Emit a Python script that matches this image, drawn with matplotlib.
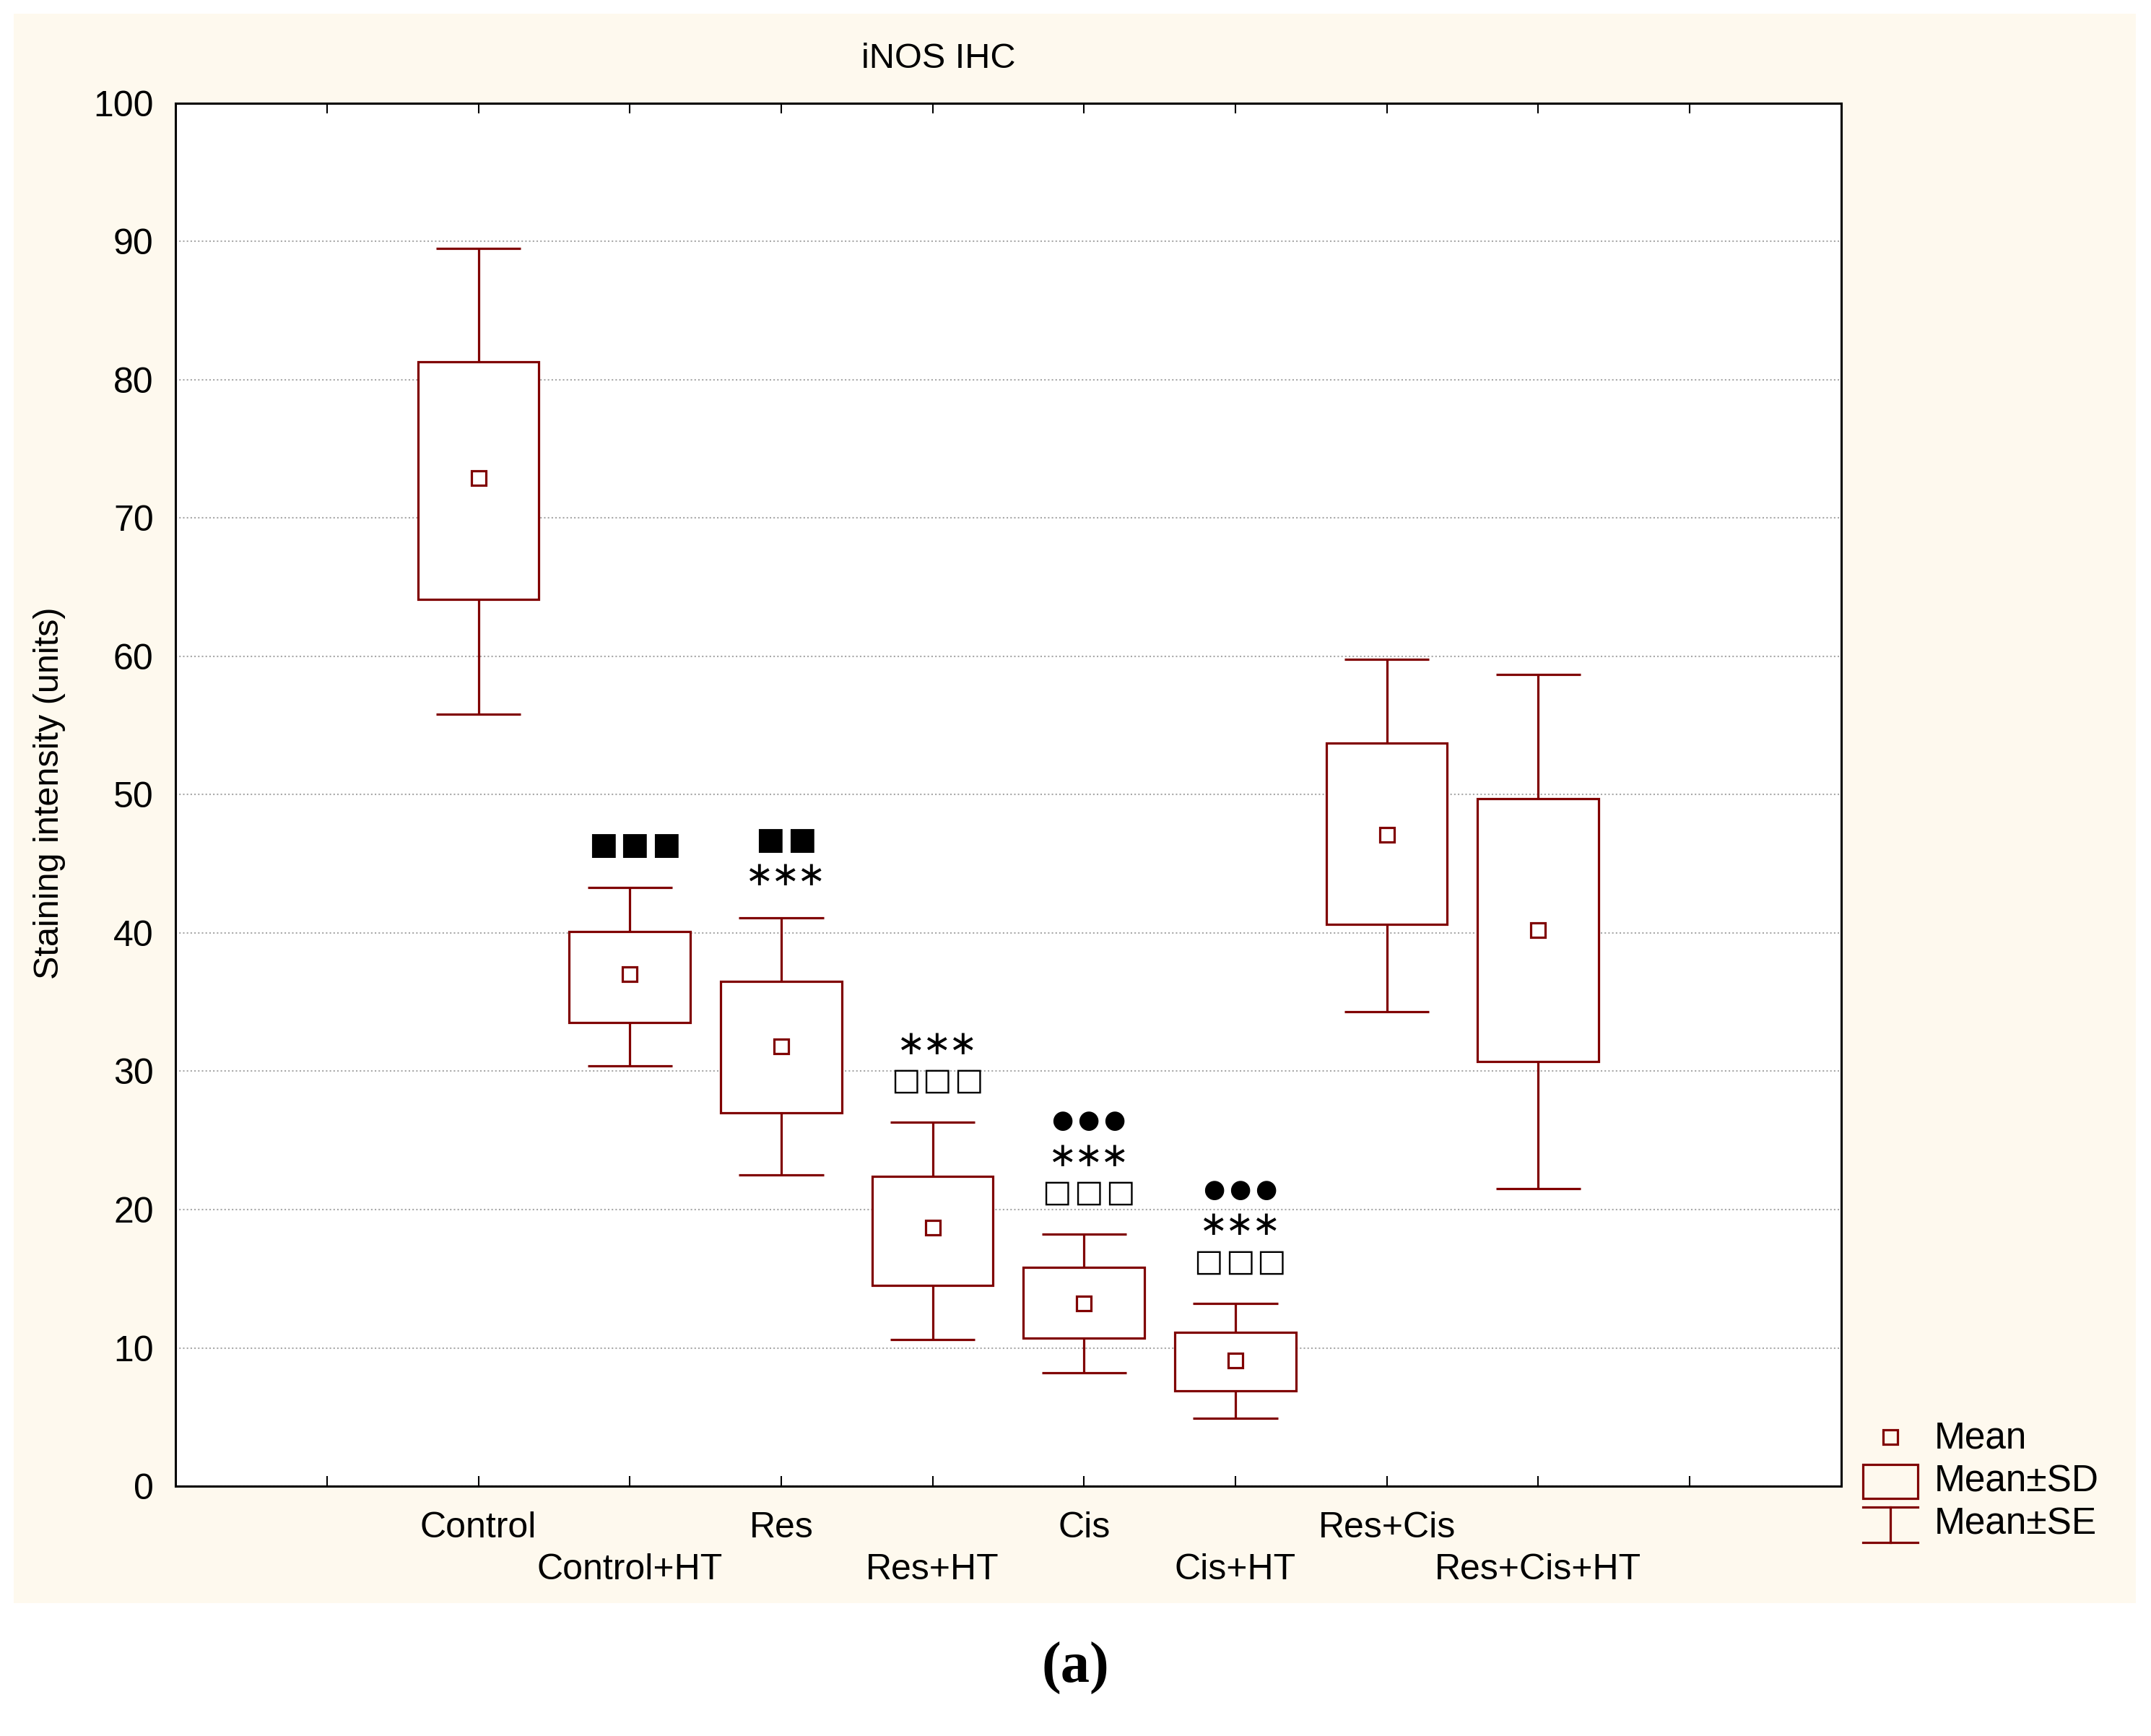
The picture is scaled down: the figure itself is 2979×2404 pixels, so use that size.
import numpy as np
import matplotlib
matplotlib.use("Agg")
import matplotlib.pyplot as plt
from matplotlib.patches import Rectangle

# groups and values
groups = ["Control", "Control+HT", "Res", "Res+HT", "Cis", "Cis+HT", "Res+Cis", "Res+Cis+HT"]
mean = [72.9, 37.0, 31.8, 18.7, 13.2, 9.1, 47.1, 40.2]
sd_lo = [64.1, 33.5, 27.0, 14.5, 10.7, 6.9, 40.6, 30.7]
sd_hi = [81.3, 40.1, 36.5, 22.4, 15.8, 11.1, 53.7, 49.7]
se_lo = [55.8, 30.4, 22.5, 10.6, 8.2, 4.9, 34.3, 21.5]
se_hi = [89.5, 43.3, 41.1, 26.3, 18.2, 13.2, 59.8, 58.7]
# significance marks, listed bottom to top
marks = [[], ["■■■"], ["∗∗∗", "■■"], ["□□□", "∗∗∗"], ["□□□", "∗∗∗", "●●●"],
         ["□□□", "∗∗∗", "●●●"], [], []]

# glyph size and spacing for each kind of mark
sym_size = {"■": 31, "□": 31, "∗": 34, "●": 25}
sym_pitch = {"■": 0.208, "□": 0.208, "∗": 0.172, "●": 0.172}

plt.rcParams['font.family'] = ['Liberation Sans', 'DejaVu Sans']
red = "#800000"
W, H = 2979, 2404
fig = plt.figure(figsize=(W / 100, H / 100), dpi=100)
fig.patch.set_facecolor("white")

# cream panel behind the chart
fig.patches.append(Rectangle((10 / 1568, 1 - 1168 / 1265), 1547 / 1568, 1158 / 1265,
                             transform=fig.transFigure, facecolor="#fef9ee",
                             edgecolor="none", zorder=-10))

ax = fig.add_axes([128 / 1568, 1 - 1083 / 1265, 1214 / 1568, 1008 / 1265])
ax.set_facecolor("white")
x = np.arange(len(groups)) + 2
lw = 2.3

mean = np.array(mean); sd_lo = np.array(sd_lo); sd_hi = np.array(sd_hi)
se_lo = np.array(se_lo); se_hi = np.array(se_hi)

ax.bar(x, sd_hi - sd_lo, bottom=sd_lo, width=0.8, facecolor="white",
       edgecolor=red, linewidth=lw, zorder=3)
ax.vlines(x, sd_hi, se_hi, color=red, linewidth=lw, zorder=3)
ax.vlines(x, se_lo, sd_lo, color=red, linewidth=lw, zorder=3)
ax.hlines(se_hi, x - 0.28, x + 0.28, color=red, linewidth=lw, zorder=3)
ax.hlines(se_lo, x - 0.28, x + 0.28, color=red, linewidth=lw, zorder=3)
ax.plot(x, mean, ls="none", marker="s", ms=15, mfc="none", mec=red, mew=lw, zorder=4)

for xi, top, mk in zip(x, se_hi, marks):
    for i, s in enumerate(mk):
        n = len(s)
        for j, ch in enumerate(s):
            ax.text(xi + 0.03 + (j - (n - 1) / 2) * sym_pitch[ch], top + 3.0 + 2.6 * i, ch,
                    ha="center", va="center", fontsize=sym_size[ch],
                    family="DejaVu Sans", color="black", zorder=5)

ax.set_xlim(0, 11)
ax.set_ylim(0, 100)
ax.set_yticks(np.arange(0, 101, 10))
ax.yaxis.grid(True, color="#a8a8a8", linestyle=(0, (1, 1.5)), linewidth=1.5)
ax.set_axisbelow(True)

ax.set_xticks([1] + list(x[::2]) + [10], [""] + groups[::2] + [""])
ax.set_xticks(x[1::2], groups[1::2], minor=True)
ax.tick_params(axis="x", which="both", direction="in", top=True, length=10,
               width=1.5, labelsize=36)
ax.tick_params(axis="x", which="major", pad=25)
ax.tick_params(axis="x", which="minor", pad=67)
ax.tick_params(axis="y", length=0, pad=22, labelsize=36)
for sp in ax.spines.values():
    sp.set_linewidth(2.2)

fig.text(684 / 1568, 1 - 43 / 1265, "iNOS IHC", ha="center", va="center", fontsize=35)
fig.text(36 / 1568, 1 - 578 / 1265, "Staining intensity (units)", ha="center",
         va="center", rotation=90, fontsize=35)
fig.text(784 / 1568, 1 - 1216 / 1265, "(a)", ha="center", va="center", fontsize=58,
         family="Liberation Serif", weight="bold")

# legend drawn by hand
lax = fig.add_axes([1350 / 1568, 1 - 1132 / 1265, 200 / 1568, 100 / 1265])
lax.set_xlim(1350, 1550)
lax.set_ylim(1132, 1032)
lax.axis("off")
lax.plot([1378], [1047], ls="none", marker="s", ms=15, mfc="none", mec=red, mew=lw)
lax.add_patch(Rectangle((1358, 1067), 40, 25, facecolor="none", edgecolor=red, linewidth=lw))
lax.plot([1358, 1398], [1098, 1098], color=red, lw=lw)
lax.plot([1358, 1398], [1124, 1124], color=red, lw=lw)
lax.plot([1378, 1378], [1098, 1124], color=red, lw=lw)
for ty, t in zip([1048, 1080, 1111], ["Mean", "Mean±SD", "Mean±SE"]):
    lax.text(1410, ty, t, ha="left", va="center", fontsize=37)

fig.savefig("out.png", dpi=100)
